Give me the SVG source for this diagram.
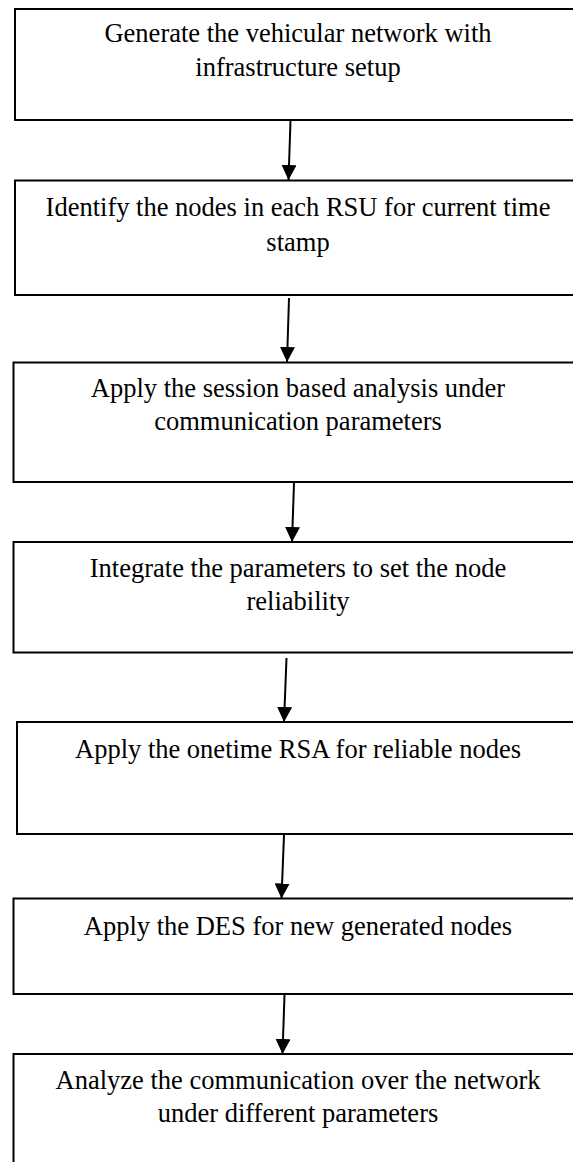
<svg xmlns="http://www.w3.org/2000/svg" width="573" height="1162" viewBox="0 0 573 1162">
<defs>
<style>
.box{fill:#ffffff;stroke:#000000;stroke-width:2}
.t{font-family:"Liberation Serif","Times New Roman",serif;font-size:26.5px;fill:#000000;text-anchor:middle}
.c{stroke:#000000;stroke-width:2;fill:none}
</style>
<marker id="ah" markerUnits="userSpaceOnUse" markerWidth="15" markerHeight="15" refX="15" refY="7.5" orient="auto" viewBox="0 0 15 15">
<path d="M0,0 L15,7.5 L0,15 Z" fill="#000000"/>
</marker>
</defs>
<rect x="0" y="0" width="573" height="1162" fill="#ffffff"/>
<g id="n1"><rect class="box" x="15" y="9" width="580" height="111"/>
<text class="t" x="298" y="42">Generate the vehicular network with</text>
<text class="t" x="298" y="75.5">infrastructure setup</text></g>
<g id="n2"><rect class="box" x="15" y="180.5" width="580" height="114.5"/>
<text class="t" x="298" y="216">Identify the nodes in each RSU for current time</text>
<text class="t" x="298" y="250.5">stamp</text></g>
<g id="n3"><rect class="box" x="13.5" y="362.5" width="580" height="119.5"/>
<text class="t" x="298" y="397">Apply the session based analysis under</text>
<text class="t" x="298" y="430">communication parameters</text></g>
<g id="n4"><rect class="box" x="13.5" y="542" width="580" height="110.5"/>
<text class="t" x="298" y="576.5">Integrate the parameters to set the node</text>
<text class="t" x="298" y="609.5">reliability</text></g>
<g id="n5"><rect class="box" x="17" y="722" width="580" height="112"/>
<text class="t" x="298" y="758">Apply the onetime RSA for reliable nodes</text></g>
<g id="n6"><rect class="box" x="13.5" y="898.5" width="580" height="95.5"/>
<text class="t" x="298" y="935">Apply the DES for new generated nodes</text></g>
<g id="n7"><rect class="box" x="13.5" y="1054" width="580" height="130"/>
<text class="t" x="298" y="1089">Analyze the communication over the network</text>
<text class="t" x="298" y="1122">under different parameters</text></g>
<g id="connectors">
<line class="c" x1="290.5" y1="121" x2="288.5" y2="180" marker-end="url(#ah)"/>
<line class="c" x1="289" y1="298" x2="287" y2="362" marker-end="url(#ah)"/>
<line class="c" x1="294" y1="483" x2="292" y2="542" marker-end="url(#ah)"/>
<line class="c" x1="286.5" y1="658" x2="284" y2="722" marker-end="url(#ah)"/>
<line class="c" x1="284" y1="835" x2="281.5" y2="898.5" marker-end="url(#ah)"/>
<line class="c" x1="284.5" y1="995" x2="282.5" y2="1054" marker-end="url(#ah)"/>
</g>
</svg>
